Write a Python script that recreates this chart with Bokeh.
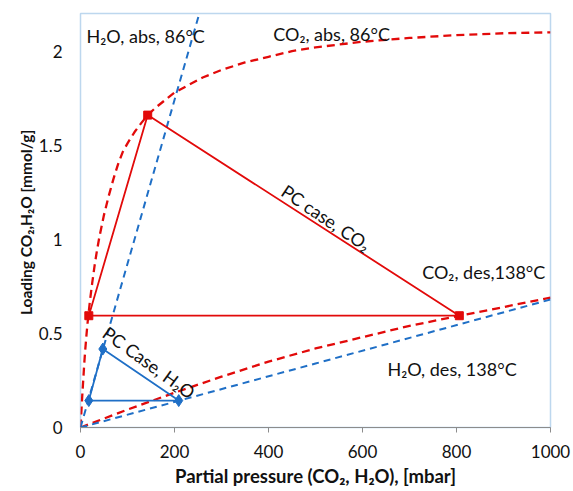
import math
from bokeh.plotting import figure
from bokeh.models import Range1d, Label, FixedTicker, Title
from bokeh.embed import file_html
from bokeh.resources import INLINE

# ---- data ----
co2_abs_p = [0, 2, 4, 6, 8, 10, 13, 16, 20, 25, 30, 35, 40, 50, 60, 70, 80, 90, 100, 115, 130, 143,
             160, 180, 200, 230, 260, 300, 350, 400, 450, 500, 600, 700, 800, 900, 1000]
co2_abs_q = [0, 0.09, 0.18, 0.26, 0.34, 0.41, 0.50, 0.58, 0.67, 0.77, 0.86, 0.94, 1.01, 1.13, 1.23, 1.32,
             1.40, 1.465, 1.51, 1.57, 1.62, 1.66, 1.70, 1.74, 1.78, 1.82, 1.86, 1.90, 1.94, 1.97, 2.00,
             2.02, 2.05, 2.07, 2.085, 2.095, 2.10]

co2_des_p = [0, 100, 200, 300, 400, 500, 600, 700, 806, 900, 1000]
co2_des_q = [0, 0.095, 0.185, 0.27, 0.35, 0.42, 0.48, 0.54, 0.594, 0.64, 0.69]

h2o_abs_p = [0, 100, 200, 300]
h2o_abs_q = [0, 0.87, 1.74, 2.61]

h2o_des_p = [0, 500, 1000]
h2o_des_q = [0, 0.34, 0.68]

pc_co2_p = [17.7, 143, 806, 17.7]
pc_co2_q = [0.594, 1.66, 0.594, 0.594]

pc_h2o_p = [17.7, 47.5, 209, 17.7]
pc_h2o_q = [0.143, 0.417, 0.143, 0.143]

x_ticks = [0, 200, 400, 600, 800, 1000]
y_ticks = [0, 0.5, 1, 1.5, 2]

RED = "#E20A0A"
BLUE = "#1F6FC6"
FONT = "Lato"
TXT = "#111111"

p = figure(width=573, height=491, output_backend="svg", toolbar_location=None,
           x_range=Range1d(0, 1000), y_range=Range1d(0, 2.2),
           min_border_left=80, min_border_right=23, min_border_top=13, min_border_bottom=64)

p.xgrid.visible = False
p.ygrid.visible = False
p.outline_line_color = "#BDD7EE"
p.outline_line_width = 1.5
p.background_fill_color = "white"
p.border_fill_color = "white"

# x axis
p.xaxis.ticker = FixedTicker(ticks=x_ticks)
p.xaxis.axis_line_color = "#8C8C8C"
p.xaxis.major_tick_line_color = "#8C8C8C"
p.xaxis.major_tick_out = 5
p.xaxis.major_tick_in = 0
p.xaxis.minor_tick_line_color = None
p.xaxis.major_label_text_font = FONT
p.xaxis.major_label_text_font_size = "17px"
p.xaxis.major_label_text_color = TXT
p.xaxis.major_label_standoff = 12
p.xaxis.axis_label = "Partial pressure (CO₂, H₂O), [mbar]"
p.xaxis.axis_label_text_font = FONT
p.xaxis.axis_label_text_font_style = "bold"
p.xaxis.axis_label_text_font_size = "18.5px"
p.xaxis.axis_label_text_color = TXT
p.xaxis.axis_label_standoff = 4

# y axis
p.yaxis.ticker = FixedTicker(ticks=y_ticks)
p.yaxis.axis_line_color = None
p.yaxis.major_tick_line_color = None
p.yaxis.major_tick_out = 0
p.yaxis.major_tick_in = 0
p.yaxis.minor_tick_line_color = None
p.yaxis.major_label_text_font = FONT
p.yaxis.major_label_text_font_size = "17px"
p.yaxis.major_label_text_color = TXT
p.yaxis.major_label_standoff = 18

# y axis label as a left-side title (shifted up a little, as in the reference)
p.add_layout(Title(text="Loading CO₂,H₂O  [mmol/g]", align="center", offset=14,
                   text_font=FONT, text_font_style="bold", text_font_size="15.5px",
                   text_color=TXT, standoff=2), "left")

# isotherms (dashed)
p.line(co2_abs_p, co2_abs_q, line_color=RED, line_width=2.3, line_dash="8 5")
p.line(co2_des_p, co2_des_q, line_color=RED, line_width=2.3, line_dash="8 5")
p.line(h2o_abs_p, h2o_abs_q, line_color=BLUE, line_width=2.0, line_dash="7 5")
p.line(h2o_des_p, h2o_des_q, line_color=BLUE, line_width=2.0, line_dash="7 5")

# PC cycles
p.line(pc_co2_p, pc_co2_q, line_color=RED, line_width=1.8)
p.scatter(pc_co2_p[:3], pc_co2_q[:3], marker="square", size=8, fill_color=RED, line_color=RED)
p.line(pc_h2o_p, pc_h2o_q, line_color=BLUE, line_width=1.8)
p.scatter(pc_h2o_p[:3], pc_h2o_q[:3], marker="diamond", size=12, fill_color=BLUE, line_color=BLUE)

def lab(x, y, t, angle=0.0, align="left"):
    p.add_layout(Label(x=x, y=y, text=t, angle=angle, text_align=align, text_baseline="middle",
                       text_font=FONT, text_font_size="18px", text_color=TXT))

lab(13, 2.08, "H₂O, abs, 86°C")
lab(410, 2.09, "CO₂, abs,  86°C")
lab(727, 0.824, "CO₂, des,138°C")
lab(653, 0.313, "H₂O, des, 138°C")
lab(523, 1.114, "PC case, CO₂", angle=-math.radians(34), align="center")
lab(146, 0.346, "PC Case, H₂O", angle=-math.radians(36), align="center")

open("out.html", "w").write(file_html(p, INLINE))
